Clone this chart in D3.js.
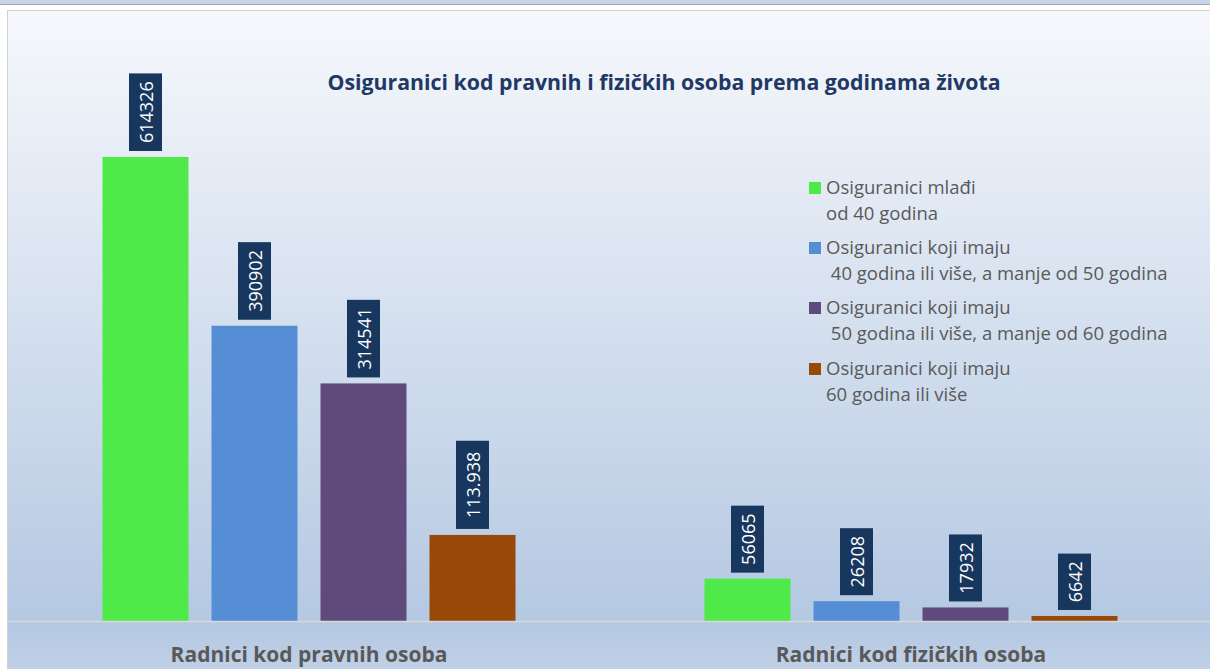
<!DOCTYPE html>
<html>
<head>
<meta charset="utf-8">
<script src="https://cdn.jsdelivr.net/npm/d3@7"></script>
<style>
  body { margin: 0; background: #fff; }
  svg { display: block; }
</style>
</head>
<body>
<div id="chart"></div>
<script>
/*
 * Osiguranici chart
 */

var categories = ["Radnici kod pravnih osoba", "Radnici kod fizičkih osoba"];
var seriesNames = [
  ["Osiguranici mlađi", "od 40 godina"],
  ["Osiguranici koji imaju", " 40 godina ili više, a manje od 50 godina"],
  ["Osiguranici koji imaju", " 50 godina ili više, a manje od 60 godina"],
  ["Osiguranici koji imaju", "60 godina ili više"]
];
var seriesColors = ["#50e94a", "#558ed5", "#604a7b", "#984807"];
// values per category, one per series
var pravne = [614326, 390902, 314541, 113938];
var fizicke = [56065, 26208, 17932, 6642];
var labels = [["614326", "390902", "314541", "113.938"], ["56065", "26208", "17932", "6642"]];
var title = "Osiguranici kod pravnih i fizičkih osoba prema godinama života";

var W = 1210, H = 669;
var plot = { left: 8, right: 1212, top: 12, base: 621 };

var svg = d3.select("#chart").append("svg").attr("width", W).attr("height", H);

var defs = svg.append("defs");
var grad = defs.append("linearGradient").attr("id", "bg").attr("x1", 0).attr("y1", 0).attr("x2", 0).attr("y2", 1);
grad.append("stop").attr("offset", "0%").attr("stop-color", "#f6f8fc");
grad.append("stop").attr("offset", "92%").attr("stop-color", "#b4c8e2");
grad.append("stop").attr("offset", "100%").attr("stop-color", "#c3d3e8");

// top strip
svg.append("rect").attr("x", 0).attr("y", 0).attr("width", W).attr("height", 4).style("fill", "#c6d5ea");
svg.append("line").attr("x1", 0).attr("x2", W).attr("y1", 4.5).attr("y2", 4.5).style("stroke", "#a6a6a6");

// chart frame
svg.append("rect").attr("x", 7.5).attr("y", 10.5).attr("width", W).attr("height", H)
  .style("fill", "url(#bg)").style("stroke", "#d0d0d0");

var data = [pravne, fizicke];

var x0 = d3.scaleBand().domain(categories).range([plot.left, plot.right]);
var x1 = d3.scaleBand().domain(d3.range(seriesNames.length)).range([0, x0.bandwidth()])
  .paddingInner(0.211).paddingOuter(0.867);
var y = d3.scaleLinear().domain([0, 614326]).range([plot.base, 157]);

var groups = svg.selectAll("g.cat").data(categories).enter().append("g")
  .attr("class", "cat").attr("transform", function(d){ return "translate(" + x0(d) + ",0)"; });

groups.each(function(cat, ci){
  var g = d3.select(this);
  data[ci].forEach(function(v, si){
    var bx = x1(si), bw = x1.bandwidth();
    var top = y(v);
    g.append("rect").attr("x", bx).attr("y", top).attr("width", bw).attr("height", plot.base - top)
      .style("fill", seriesColors[si]);

    // value label box, rotated text
    var txt = labels[ci][si];
    var boxH = txt.length * 10.6 + 14;
    var boxW = 33;
    var cx = bx + bw / 2;
    var boxBottom = top - 6;
    g.append("rect").attr("x", cx - boxW / 2).attr("y", boxBottom - boxH).attr("width", boxW).attr("height", boxH)
      .style("fill", "#17375e");
    g.append("text").attr("transform", "translate(" + (cx + 1) + "," + (boxBottom - boxH / 2) + ") rotate(-90)")
      .attr("text-anchor", "middle").attr("dy", "0.35em")
      .style("font-family", "'Open Sans', sans-serif").style("font-size", "18px").style("fill", "#fff")
      .text(txt);
  });
});

// baseline
svg.append("line").attr("x1", 8).attr("x2", W).attr("y1", plot.base + 0.5).attr("y2", plot.base + 0.5)
  .style("stroke", "#d9d9d9").style("stroke-width", 1.5);

// category labels
svg.selectAll("text.cat").data(categories).enter().append("text")
  .attr("x", function(d){ return x0(d) + x0.bandwidth() / 2; })
  .attr("y", 662).attr("text-anchor", "middle")
  .style("font-family", "'Open Sans', sans-serif").style("font-weight", "bold")
  .style("font-size", "21px").style("fill", "#595959")
  .text(function(d){ return d; });

// title
svg.append("text").attr("x", 664).attr("y", 90).attr("text-anchor", "middle")
  .style("font-family", "'Open Sans', sans-serif").style("font-weight", "bold")
  .style("font-size", "21.3px").style("fill", "#1f3864")
  .text(title);

// legend
var legendY = [188, 248, 308, 369];
var legend = svg.append("g").attr("class", "legend");
seriesNames.forEach(function(lines, i){
  legend.append("rect").attr("x", 809).attr("y", legendY[i] - 6).attr("width", 12).attr("height", 12)
    .style("fill", seriesColors[i]);
  lines.forEach(function(line, j){
    legend.append("text").attr("x", 826).attr("y", legendY[i] + j * 26).attr("dy", "0.35em")
      .attr("xml:space", "preserve").style("white-space", "pre")
      .style("font-family", "'Open Sans', sans-serif").style("font-size", "18.5px").style("fill", "#595959")
      .text(line);
  });
});
</script>
</body>
</html>
